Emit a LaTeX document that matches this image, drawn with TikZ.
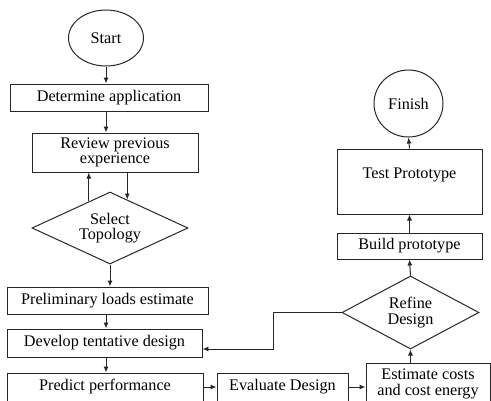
\documentclass[tikz,border=0pt]{standalone}
\usepackage{fontspec}
\setmainfont{Liberation Serif}
\usetikzlibrary{shapes.geometric,calc,arrows.meta}

\begin{document}
\begin{tikzpicture}[x=1pt, y=-1pt,
    every node/.style={font=\fontsize{16.2}{15.5}\selectfont, align=center, inner sep=0pt},
    box/.style={draw=black!85, line width=0.35mm, rectangle},
    terminal/.style={draw=black!85, line width=0.35mm, ellipse},
    decision/.style={draw=black!85, line width=0.35mm, diamond, aspect=2.1},
    flow/.style={line width=0.35mm, black!85, -{Latex[length=6pt,width=5pt]}}]
  \clip (0,0) rectangle (491,400);

  % left column
  \node[terminal, minimum width=75pt, minimum height=56pt] (start) at (106,38) {Start};
  \node[box, minimum width=198pt, minimum height=27pt] (determine) at (109,97.5) {Determine application};
  \node[box, minimum width=166pt, minimum height=39pt] (review) at (115,152.5) {Review previous\\experience};
  \node[decision, minimum width=156pt, minimum height=72pt] (select) at (110,228) {Select\\Topology};
  \node[box, minimum width=201pt, minimum height=27pt] (prelim) at (107.5,300.5) {Preliminary loads estimate};
  \node[box, minimum width=195pt, minimum height=28pt] (develop) at (104.5,343) {Develop tentative design};
  \node[box, minimum width=196pt, minimum height=28pt] (predict) at (105,387) {Predict performance};

  % bottom row
  \node[box, minimum width=131pt, minimum height=28pt] (evaluate) at (282.5,387) {Evaluate Design};
  \node[box, minimum width=124pt, minimum height=42pt] (estimate) at (428,384) {Estimate costs\\and cost energy};

  % right column
  \node[decision, minimum width=137pt, minimum height=73pt] (refine) at (410.5,312.5) {Refine\\Design};
  \node[box, minimum width=145pt, minimum height=26pt] (build) at (409.5,246) {Build prototype};
  \node[box, minimum width=145pt, minimum height=65pt, text depth=16pt] (test) at (409.5,181.5) {Test Prototype};
  \node[terminal, minimum width=69pt, minimum height=67pt] (finish) at (408.5,103.5) {Finish};

  % helper points
  \coordinate (sel-up) at ($(select.north)!0.27!(select.west)$);
  \coordinate (sel-dn) at ($(select.north)!0.22!(select.east)$);
  \coordinate (loop) at (273,349);

  % arrows
  \draw[flow] (start) -- (start |- determine.north);
  \draw[flow] (determine.south -| start) -- (review.north -| start);
  \draw[flow] (sel-up) -- (sel-up |- review.south);
  \draw[flow] (sel-dn |- review.south) -- (sel-dn);
  \draw[flow] (select.south) -- (select.south |- prelim.north);
  \draw[flow] (prelim.south -| start) -- (develop.north -| start);
  \draw[flow] (develop.south -| start) -- (predict.north -| start);
  \draw[flow] (predict.east) -- (evaluate.west);
  \draw[flow] (evaluate.east) -- (evaluate.east -| estimate.west);
  \draw[flow] (estimate.north -| refine.south) -- (refine.south);
  \draw[flow] (refine.north) -- (build.south);
  \draw[flow] (build.north) -- (test.south);
  \draw[flow] (test.north) -- (finish.south);
  \draw[flow] (refine.west) -| (loop) -- (loop -| develop.east);
\end{tikzpicture}
\end{document}
